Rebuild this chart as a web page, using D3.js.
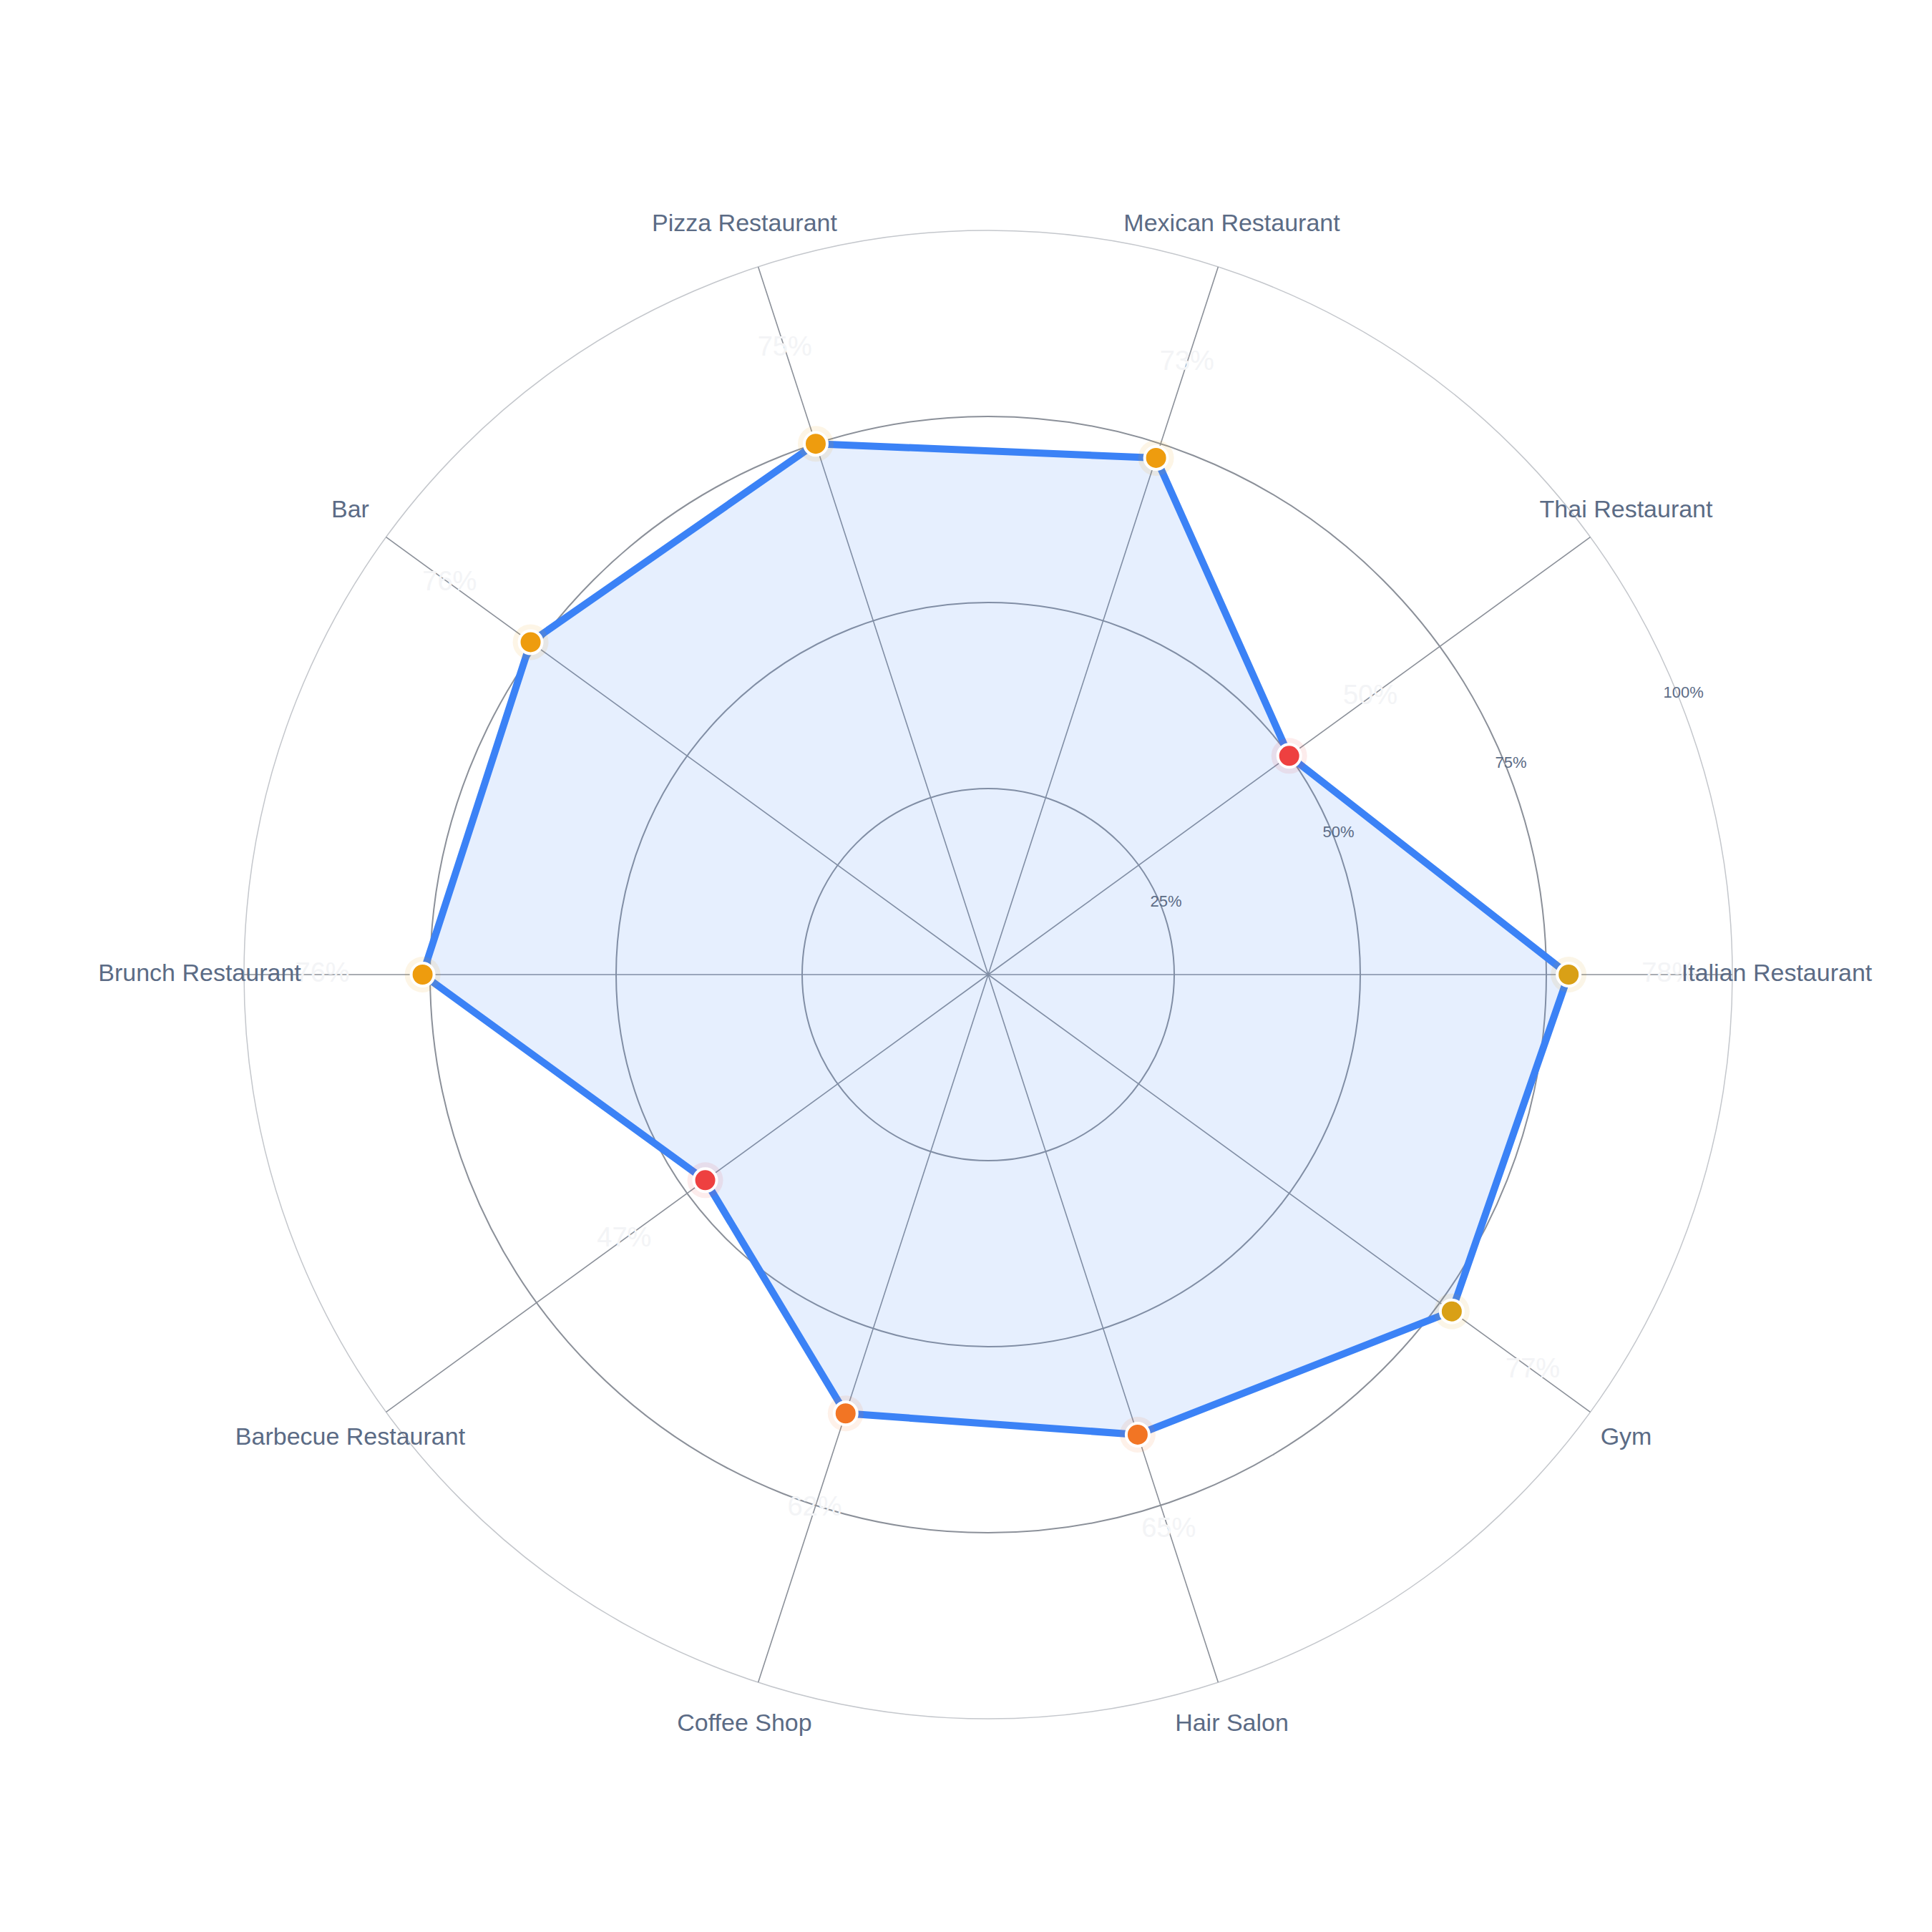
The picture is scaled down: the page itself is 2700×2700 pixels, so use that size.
<!DOCTYPE html>
<html>
<head>
<meta charset="utf-8">
<script src="https://cdn.jsdelivr.net/npm/d3@7"></script>
<style>
  body { margin: 0; background: #fff; }
  svg { display: block; font-family: "Liberation Sans", Arial, sans-serif; }
</style>
</head>
<body>
<svg id="chart" width="2700" height="2700"></svg>
<script>
const categories = ['Italian Restaurant', 'Thai Restaurant', 'Mexican Restaurant', 'Pizza Restaurant', 'Bar',
  'Brunch Restaurant', 'Barbecue Restaurant', 'Coffee Shop', 'Hair Salon', 'Gym'];
const values = [78, 50, 73, 75, 76, 76, 47, 62, 65, 77];
const ringTicks = [25, 50, 75, 100];

const cx = 1381, cy = 1362, R = 1040;
const svg = d3.select('#chart');
const g = svg.append('g').attr('transform', `translate(${cx},${cy})`);

const r = d3.scaleLinear().domain([0, 100]).range([0, R]);
const angle = d3.scaleLinear().domain([0, categories.length]).range([0, 2 * Math.PI]);
// angle measured counterclockwise from the right
const pt = (i, v) => [r(v) * Math.cos(angle(i)), -r(v) * Math.sin(angle(i))];

function markerColor(v) {
  if (v >= 77) return '#d9a016';
  if (v >= 70) return '#ee9c0e';
  if (v >= 55) return '#f27524';
  return '#ee4040';
}

// rings
g.selectAll('circle.ring')
  .data(ringTicks)
  .join('circle')
  .attr('r', (d) => r(d))
  .attr('fill', 'none')
  .attr('stroke', (d) => (d === 100 ? '#c4c7cc' : '#8b9099'))
  .attr('stroke-width', (d) => (d === 100 ? 1.5 : 2));

// spokes
g.selectAll('line.spoke')
  .data(categories)
  .join('line')
  .attr('x1', 0).attr('y1', 0)
  .attr('x2', (d, i) => pt(i, 100)[0])
  .attr('y2', (d, i) => pt(i, 100)[1])
  .attr('stroke', '#8b9099')
  .attr('stroke-width', 1.6);

// area
const poly = values.map((v, i) => pt(i, v));
g.append('path')
  .attr('d', d3.line().curve(d3.curveLinearClosed)(poly))
  .attr('fill', 'rgba(59,130,246,0.13)')
  .attr('stroke', '#3b82f6')
  .attr('stroke-width', 10)
  .attr('stroke-linejoin', 'round');

// ring labels
const tickAng = 22 * Math.PI / 180;
g.selectAll('text.tick')
  .data(ringTicks)
  .join('text')
  .attr('x', (d) => (r(d) + 8) * Math.cos(tickAng))
  .attr('y', (d) => -(r(d) + 8) * Math.sin(tickAng))
  .attr('font-size', 22)
  .attr('fill', '#5b6b85')
  .attr('text-anchor', 'middle')
  .attr('dominant-baseline', 'middle')
  .text((d) => d + '%');

// value labels (very faint)
g.selectAll('text.val')
  .data(values)
  .join('text')
  .attr('x', (d, i) => (r(d) + 140) * Math.cos(angle(i)))
  .attr('y', (d, i) => -(r(d) + 140) * Math.sin(angle(i)))
  .attr('font-size', 38)
  .attr('fill', '#f3f4f6')
  .attr('text-anchor', 'middle')
  .attr('dominant-baseline', 'middle')
  .text((d) => d + '%');

// markers
const m = g.selectAll('g.mark').data(values).join('g')
  .attr('transform', (d, i) => `translate(${pt(i, d)})`);
m.append('circle').attr('r', 25).attr('fill', (d) => markerColor(d)).attr('opacity', 0.1);
m.append('circle').attr('r', 16).attr('fill', (d) => markerColor(d))
  .attr('stroke', '#fff').attr('stroke-width', 4);

// category labels
g.selectAll('text.cat')
  .data(categories)
  .join('text')
  .attr('x', (d, i) => 1102 * Math.cos(angle(i)))
  .attr('y', (d, i) => -1102 * Math.sin(angle(i)))
  .attr('font-size', 34)
  .attr('fill', '#5b6b85')
  .attr('text-anchor', 'middle')
  .attr('dominant-baseline', 'middle')
  .text((d) => d);
</script>
</body>
</html>
